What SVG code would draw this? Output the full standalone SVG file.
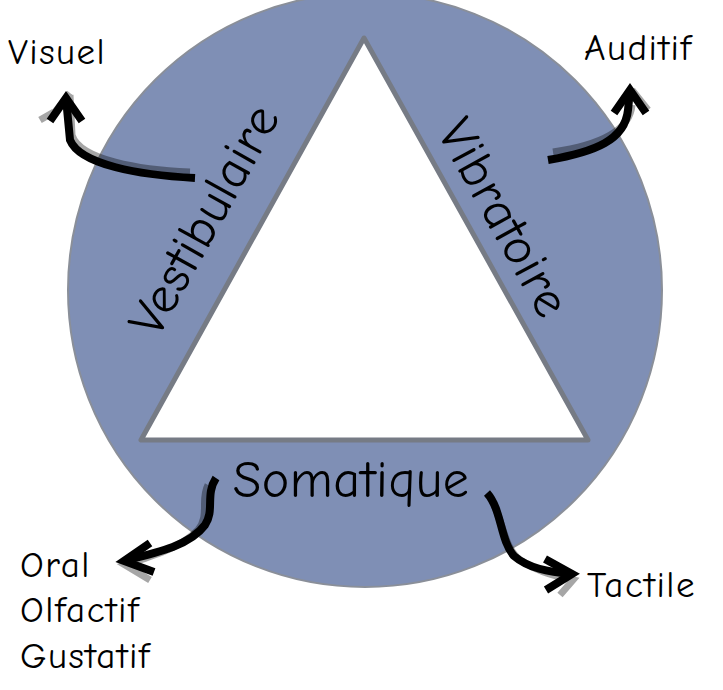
<svg xmlns="http://www.w3.org/2000/svg" width="723" height="690" viewBox="0 0 723 690">
<defs>
<style>
.t{font-family:"Comic Neue","Comic Sans MS","DejaVu Sans","Liberation Sans",sans-serif;fill:#000}
.lbl{font-size:37px;letter-spacing:1.5px}
.big{font-size:52px;letter-spacing:0.5px}
.arr{fill:none;stroke:#000;stroke-width:8;stroke-linecap:butt;stroke-linejoin:miter}
.sh{fill:none;stroke:#000;stroke-opacity:0.35;stroke-width:7}
</style>
</defs>
<g id="circle">
<circle cx="365" cy="290" r="297" fill="#7f8fb5" stroke="#8a8f99" stroke-width="2"/>
</g>
<g id="triangle">
<polygon points="364,38 141,440 588,440" fill="#fff" stroke="#767b85" stroke-width="5" stroke-linejoin="round"/>
</g>
<g id="vestibulaire"><text class="t big" transform="translate(208,222) rotate(-61)" text-anchor="middle" dominant-baseline="middle" letter-spacing="1.5">Vestibulaire</text></g>
<g id="vibratoire"><text class="t big" transform="translate(500,220) rotate(61)" text-anchor="middle" dominant-baseline="middle">Vibratoire</text></g>
<g id="somatique"><text class="t big" x="351" y="497" text-anchor="middle">Somatique</text></g>
<g id="visuel"><text class="t lbl" x="8" y="64">Visuel</text></g>
<g id="auditif"><text class="t lbl" x="584" y="60">Auditif</text></g>
<g id="oral"><text class="t lbl" x="20" y="577">Oral</text></g>
<g id="olfactif"><text class="t lbl" x="20" y="622">Olfactif</text></g>
<g id="gustatif"><text class="t lbl" x="20" y="668">Gustatif</text></g>
<g id="tactile"><text class="t lbl" x="587" y="597">Tactile</text></g>
<g id="connectors">
<path class="sh" d="M190,172 C140,170 80,160 72,135 L70,95 M55,112 L70,93 M54,112 L40,120"/>
<path class="arr" d="M195,178 C140,175 80,165 70,140 L66,98"/>
<path class="arr" d="M50,121 L66,98 L82,121"/>
<path class="sh" d="M553,152 C600,145 630,130 632,105 M632,90 L648,110"/>
<path class="arr" d="M548,160 C595,152 625,140 628,110 L630,90"/>
<path class="arr" d="M614,113 L630,90 L646,113"/>
<path class="sh" d="M208,485 C200,500 210,515 198,530 C180,548 155,555 125,565 L150,580"/>
<path class="arr" d="M216,478 C205,495 215,510 205,525 C190,545 160,552 126,560"/>
<path class="arr" d="M150,543 L124,561 L154,572"/>
<path class="sh" d="M494,505 C505,530 505,548 520,560 C535,570 550,575 573,580 L560,595"/>
<path class="arr" d="M487,493 C502,510 500,540 514,556 C528,568 548,572 572,574"/>
<path class="arr" d="M545,559 L572,574 L546,590"/>
</g>
</svg>
